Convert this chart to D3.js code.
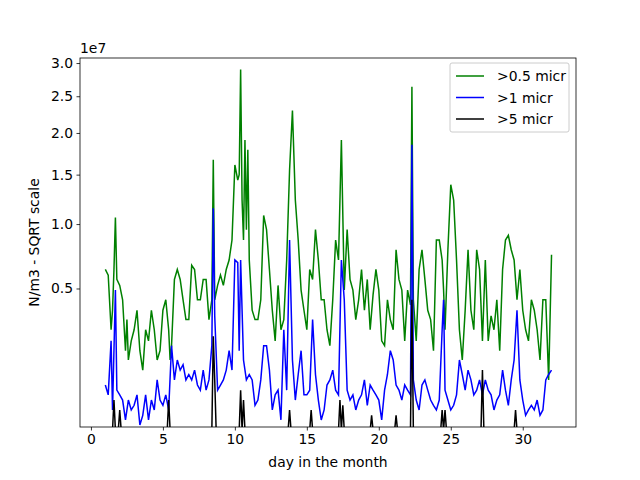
<!DOCTYPE html>
<html><head><meta charset="utf-8">
<script src="https://cdn.jsdelivr.net/npm/d3@7"></script>
<style>body{margin:0;background:#fff}text{font-family:"DejaVu Sans",sans-serif}</style>
</head><body><svg id="c" width="640" height="480"></svg>
<script>
// values in units of 1e7 particles / m3
const greenDays = [1.0,1.2,1.4,1.5,1.6,1.7,1.8,2.0,2.2,2.4,2.5,2.6,2.8,3.0,3.2,3.4,3.6,3.8,4.0,4.2,4.4,4.6,4.8,5.0,5.2,5.4,5.5,5.6,5.8,6.0,6.2,6.4,6.6,6.8,7.0,7.2,7.4,7.6,7.8,8.0,8.2,8.4,8.5,8.6,8.8,9.0,9.2,9.4,9.6,9.8,10.0,10.2,10.3,10.4,10.5,10.6,10.7,10.8,10.9,11.0,11.2,11.4,11.6,11.8,12.0,12.2,12.4,12.6,12.8,13.0,13.2,13.4,13.6,13.8,14.0,14.2,14.4,14.6,14.8,15.0,15.2,15.4,15.6,15.8,16.0,16.2,16.4,16.6,16.8,17.0,17.2,17.4,17.6,17.8,18.0,18.2,18.4,18.6,18.8,19.0,19.2,19.4,19.6,19.8,20.0,20.2,20.4,20.6,20.8,21.0,21.2,21.4,21.6,21.8,22.0,22.2,22.3,22.4,22.6,22.8,23.0,23.2,23.4,23.6,23.8,24.0,24.2,24.4,24.5,24.6,24.8,25.0,25.2,25.4,25.6,25.8,26.0,26.2,26.4,26.6,26.8,27.0,27.2,27.4,27.6,27.8,28.0,28.2,28.4,28.6,28.8,29.0,29.2,29.4,29.6,29.8,30.0,30.2,30.4,30.6,30.8,31.0,31.2,31.4,31.6,31.8,32.0];
const greenVals = [0.63,0.59,0.27,0.37,0.63,1.06,0.56,0.52,0.43,0.18,0.32,0.146,0.22,0.27,0.37,0.18,0.113,0.27,0.22,0.37,0.27,0.146,0.18,0.37,0.43,0.27,0.146,0.20,0.56,0.63,0.56,0.43,0.32,0.32,0.66,0.63,0.43,0.43,0.56,0.56,0.32,0.43,1.67,0.43,0.52,0.59,0.52,0.63,0.70,0.86,1.61,1.44,1.50,2.9,1.23,0.86,1.91,0.95,1.79,0.70,0.37,0.32,0.32,0.43,1.08,0.95,0.63,0.37,0.22,0.52,0.27,0.32,0.70,1.55,2.30,1.23,0.86,0.49,0.37,0.27,0.63,0.56,0.95,0.70,0.43,0.43,0.27,0.20,0.43,0.86,0.70,1.91,0.49,0.95,0.56,0.49,0.32,0.43,0.63,0.37,0.56,0.27,0.46,0.63,0.49,0.22,0.20,0.43,0.32,0.27,0.78,0.56,0.49,0.22,0.49,0.40,2.64,0.43,0.22,0.63,0.78,0.56,0.37,0.32,0.18,0.86,0.86,0.70,0.49,0.27,0.78,1.39,1.23,0.70,0.27,0.146,0.37,0.78,0.37,0.27,0.78,0.63,0.22,0.70,0.22,0.34,0.27,0.43,0.18,0.63,0.86,0.90,0.78,0.70,0.43,0.63,0.37,0.27,0.22,0.43,0.37,0.27,0.146,0.43,0.43,0.085,0.74];
const blueDays = [1.0,1.2,1.4,1.5,1.7,1.8,2.0,2.2,2.4,2.6,2.8,3.0,3.2,3.4,3.6,3.8,4.0,4.2,4.4,4.6,4.8,5.0,5.2,5.4,5.6,5.8,6.0,6.2,6.4,6.6,6.8,7.0,7.2,7.4,7.6,7.8,8.0,8.2,8.4,8.5,8.6,8.8,9.0,9.2,9.4,9.6,9.8,10.0,10.2,10.3,10.4,10.6,10.8,11.0,11.2,11.4,11.6,11.8,12.0,12.2,12.4,12.6,12.8,13.0,13.2,13.4,13.6,13.8,14.0,14.2,14.4,14.6,14.8,15.0,15.2,15.4,15.6,15.8,16.0,16.2,16.4,16.6,16.8,17.0,17.2,17.4,17.6,17.8,18.0,18.2,18.4,18.6,18.8,19.0,19.2,19.4,19.6,19.8,20.0,20.2,20.4,20.6,20.8,21.0,21.2,21.4,21.6,21.8,22.0,22.2,22.3,22.4,22.6,22.8,23.0,23.2,23.4,23.6,23.8,24.0,24.2,24.4,24.5,24.6,24.8,25.0,25.2,25.4,25.6,25.8,26.0,26.2,26.4,26.6,26.8,27.0,27.2,27.4,27.6,27.8,28.0,28.2,28.4,28.6,28.8,29.0,29.2,29.4,29.6,29.8,30.0,30.2,30.4,30.6,30.8,31.0,31.2,31.4,31.6,31.8,32.0];
const blueVals = [0.072,0.05,0.22,0.024,0.49,0.06,0.05,0.04,0.012,0.04,0.024,0.031,0.05,0.0075,0.017,0.05,0.012,0.04,0.024,0.085,0.04,0.031,0.05,0.024,0.20,0.085,0.146,0.113,0.13,0.085,0.10,0.085,0.113,0.072,0.06,0.113,0.06,0.085,0.20,1.15,0.34,0.06,0.072,0.085,0.113,0.18,0.113,0.70,0.68,0.18,0.70,0.146,0.085,0.10,0.085,0.031,0.04,0.085,0.20,0.20,0.113,0.024,0.05,0.06,0.012,0.27,0.06,0.86,0.146,0.04,0.10,0.18,0.05,0.05,0.06,0.32,0.10,0.04,0.012,0.024,0.072,0.085,0.113,0.06,0.05,0.70,0.43,0.06,0.04,0.05,0.024,0.04,0.05,0.085,0.031,0.072,0.06,0.05,0.04,0.012,0.06,0.10,0.18,0.146,0.072,0.06,0.04,0.072,0.06,0.05,1.85,0.085,0.04,0.024,0.072,0.085,0.06,0.04,0.031,0.024,0.04,0.27,0.43,0.06,0.04,0.024,0.031,0.05,0.146,0.10,0.06,0.113,0.085,0.05,0.06,0.085,0.05,0.085,0.06,0.05,0.024,0.04,0.05,0.113,0.06,0.031,0.085,0.146,0.37,0.085,0.04,0.017,0.024,0.031,0.024,0.04,0.017,0.024,0.085,0.10,0.113];
const blackDays = [1.0,1.5,1.6,1.7,1.9,2.0,2.1,5.3,5.4,5.5,8.4,8.5,8.6,8.7,10.3,10.4,10.5,10.6,10.7,13.7,13.8,13.9,15.2,15.3,15.4,17.2,17.3,17.4,17.5,17.6,19.4,19.5,19.6,21.1,21.2,21.3,22.2,22.3,22.4,24.3,24.4,24.5,24.6,24.7,27.1,27.2,27.3,29.4,29.5,29.6,32.0];
const blackVals = [0.004,0.004,0.04,0.004,0.004,0.024,0.004,0.004,0.04,0.004,0.004,0.24,0.085,0.004,0.004,0.06,0.004,0.04,0.004,0.004,0.024,0.004,0.004,0.024,0.004,0.004,0.04,0.004,0.031,0.004,0.004,0.017,0.004,0.004,0.017,0.004,0.004,0.43,0.004,0.004,0.024,0.004,0.024,0.004,0.004,0.113,0.004,0.004,0.024,0.004,0.004];
const xTicks = [0,5,10,15,20,25,30];
const yTicks = [0.5,1.0,1.5,2.0,2.5,3.0];
const seriesNames = [">0.5 micr", ">1 micr", ">5 micr"];
const seriesColors = ["green", "blue", "black"];

const FS = 13.9;
const m = {l: 80, r: 576, t: 58, b: 427};
const svg = d3.select('#c');
const x = d3.scaleLinear().domain([-0.76, 33.7]).range([m.l, m.r]);
const y = d3.scaleSqrt().domain([0.006, 3.08]).range([m.b, m.t]);

svg.append('clipPath').attr('id', 'clip').append('rect')
    .attr('x', m.l).attr('y', m.t).attr('width', m.r - m.l).attr('height', m.b - m.t);

const series = [
    greenDays.map((d, i) => [d, greenVals[i]]),
    blueDays.map((d, i) => [d, blueVals[i]]),
    blackDays.map((d, i) => [d, blackVals[i]])
];
const line = d3.line().x(d => x(d[0])).y(d => y(d[1]));
series.forEach((s, i) => {
    svg.append('path').attr('clip-path', 'url(#clip)').datum(s)
        .attr('d', line).attr('fill', 'none')
        .attr('stroke', seriesColors[i]).attr('stroke-width', 1.5);
});

const xa = svg.append('g').attr('transform', `translate(0,${m.b})`)
    .call(d3.axisBottom(x).tickValues(xTicks).tickSize(3.5).tickPadding(3.5));
const ya = svg.append('g').attr('transform', `translate(${m.l},0)`)
    .call(d3.axisLeft(y).tickValues(yTicks).tickFormat(d3.format('.1f')).tickSize(3.5).tickPadding(3.5));
[xa, ya].forEach(a => {
    a.select('.domain').remove();
    a.selectAll('text').attr('font-size', FS).attr('fill', '#000');
    a.selectAll('line').attr('stroke', '#000').attr('stroke-width', 0.8);
});
svg.append('rect').attr('x', m.l).attr('y', m.t).attr('width', m.r - m.l).attr('height', m.b - m.t)
    .attr('fill', 'none').attr('stroke', '#000').attr('stroke-width', 0.8);

svg.append('text').attr('x', m.l).attr('y', m.t - 5).attr('font-size', FS).text('1e7');
svg.append('text').attr('x', (m.l + m.r) / 2).attr('y', 467).attr('text-anchor', 'middle')
    .attr('font-size', FS).text('day in the month');
svg.append('text').attr('transform', `translate(39,${(m.t + m.b) / 2}) rotate(-90)`)
    .attr('text-anchor', 'middle').attr('font-size', FS).text('N/m3 - SQRT scale');

const lg = svg.append('g').attr('transform', 'translate(450,63)');
lg.append('rect').attr('width', 119).attr('height', 69).attr('rx', 2)
    .attr('fill', '#fff').attr('fill-opacity', 0.8).attr('stroke', '#ccc');
seriesNames.forEach((n, i) => {
    const yy = 13 + i * 21.5;
    lg.append('line').attr('x1', 6).attr('x2', 34).attr('y1', yy).attr('y2', yy)
        .attr('stroke', seriesColors[i]).attr('stroke-width', 1.5);
    lg.append('text').attr('x', 47).attr('y', yy + 5).attr('font-size', FS).text(n);
});
</script></body></html>
